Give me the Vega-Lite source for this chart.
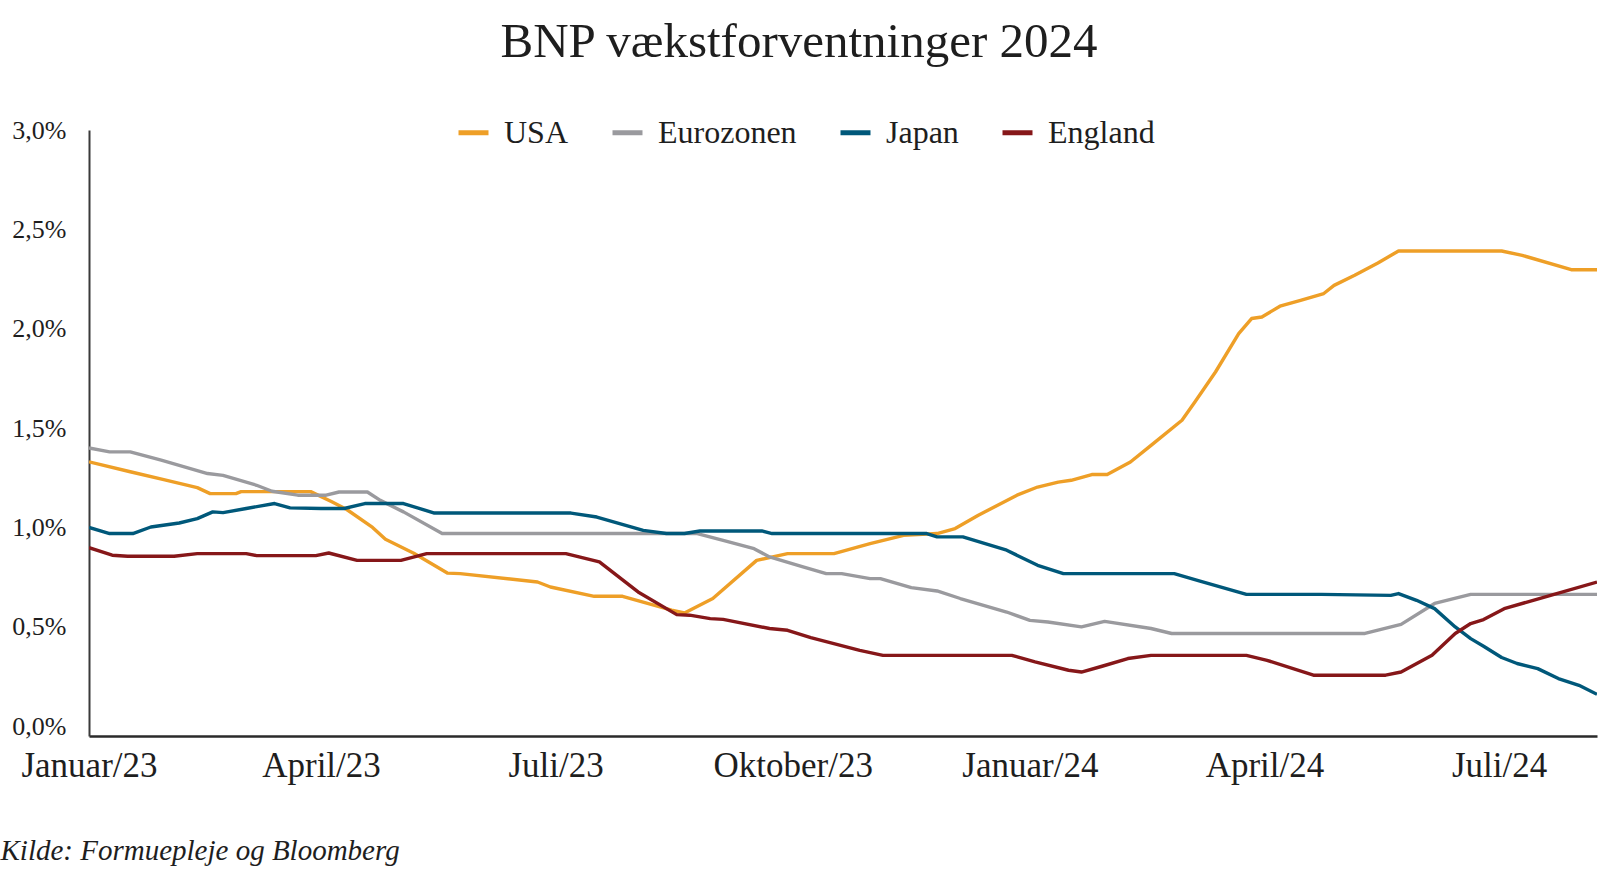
{
  "$schema": "https://vega.github.io/schema/vega-lite/v6.json",
  "autosize": {"type": "none"},
  "width": 1508,
  "height": 606,
  "padding": {"left": 89, "top": 130, "right": 3, "bottom": 138},
  "background": "white",
  "title": {
    "text": "BNP vækstforventninger 2024",
    "font": "Liberation Serif",
    "fontSize": 49,
    "fontWeight": "normal",
    "color": "#1e1e1e",
    "anchor": "middle",
    "dx": -44,
    "offset": 48
  },
  "config": {
    "view": {"stroke": null},
    "font": "Liberation Serif"
  },
  "data": {
    "values": [
      {"date": "2023-01-01", "land": "USA", "v": 1.33},
      {"date": "2023-01-17", "land": "USA", "v": 1.28},
      {"date": "2023-01-30", "land": "USA", "v": 1.24},
      {"date": "2023-02-12", "land": "USA", "v": 1.20},
      {"date": "2023-02-17", "land": "USA", "v": 1.17},
      {"date": "2023-02-27", "land": "USA", "v": 1.17},
      {"date": "2023-03-01", "land": "USA", "v": 1.18},
      {"date": "2023-03-28", "land": "USA", "v": 1.18},
      {"date": "2023-04-05", "land": "USA", "v": 1.13},
      {"date": "2023-04-11", "land": "USA", "v": 1.09},
      {"date": "2023-04-21", "land": "USA", "v": 1.00},
      {"date": "2023-04-26", "land": "USA", "v": 0.94},
      {"date": "2023-05-07", "land": "USA", "v": 0.87},
      {"date": "2023-05-20", "land": "USA", "v": 0.77},
      {"date": "2023-05-25", "land": "USA", "v": 0.767},
      {"date": "2023-06-24", "land": "USA", "v": 0.725},
      {"date": "2023-06-29", "land": "USA", "v": 0.70},
      {"date": "2023-07-16", "land": "USA", "v": 0.653},
      {"date": "2023-07-27", "land": "USA", "v": 0.653},
      {"date": "2023-08-15", "land": "USA", "v": 0.583},
      {"date": "2023-08-20", "land": "USA", "v": 0.569},
      {"date": "2023-08-31", "land": "USA", "v": 0.642},
      {"date": "2023-09-17", "land": "USA", "v": 0.834},
      {"date": "2023-09-29", "land": "USA", "v": 0.868},
      {"date": "2023-10-17", "land": "USA", "v": 0.868},
      {"date": "2023-10-31", "land": "USA", "v": 0.918},
      {"date": "2023-11-13", "land": "USA", "v": 0.960},
      {"date": "2023-11-26", "land": "USA", "v": 0.969},
      {"date": "2023-12-03", "land": "USA", "v": 0.994},
      {"date": "2023-12-12", "land": "USA", "v": 1.061},
      {"date": "2023-12-27", "land": "USA", "v": 1.162},
      {"date": "2024-01-04", "land": "USA", "v": 1.203},
      {"date": "2024-01-12", "land": "USA", "v": 1.228},
      {"date": "2024-01-17", "land": "USA", "v": 1.237},
      {"date": "2024-01-25", "land": "USA", "v": 1.266},
      {"date": "2024-01-31", "land": "USA", "v": 1.266},
      {"date": "2024-02-09", "land": "USA", "v": 1.329},
      {"date": "2024-02-17", "land": "USA", "v": 1.413},
      {"date": "2024-02-29", "land": "USA", "v": 1.539},
      {"date": "2024-03-05", "land": "USA", "v": 1.631},
      {"date": "2024-03-13", "land": "USA", "v": 1.782},
      {"date": "2024-03-22", "land": "USA", "v": 1.975},
      {"date": "2024-03-27", "land": "USA", "v": 2.051},
      {"date": "2024-03-31", "land": "USA", "v": 2.059},
      {"date": "2024-04-07", "land": "USA", "v": 2.113},
      {"date": "2024-04-15", "land": "USA", "v": 2.143},
      {"date": "2024-04-24", "land": "USA", "v": 2.177},
      {"date": "2024-04-28", "land": "USA", "v": 2.218},
      {"date": "2024-05-06", "land": "USA", "v": 2.269},
      {"date": "2024-05-15", "land": "USA", "v": 2.331},
      {"date": "2024-05-23", "land": "USA", "v": 2.391},
      {"date": "2024-07-02", "land": "USA", "v": 2.391},
      {"date": "2024-07-10", "land": "USA", "v": 2.369},
      {"date": "2024-07-29", "land": "USA", "v": 2.297},
      {"date": "2024-08-08", "land": "USA", "v": 2.297},

      {"date": "2023-01-01", "land": "Eurozonen", "v": 1.40},
      {"date": "2023-01-09", "land": "Eurozonen", "v": 1.38},
      {"date": "2023-01-17", "land": "Eurozonen", "v": 1.38},
      {"date": "2023-01-29", "land": "Eurozonen", "v": 1.338},
      {"date": "2023-02-16", "land": "Eurozonen", "v": 1.271},
      {"date": "2023-02-22", "land": "Eurozonen", "v": 1.262},
      {"date": "2023-03-07", "land": "Eurozonen", "v": 1.212},
      {"date": "2023-03-13", "land": "Eurozonen", "v": 1.182},
      {"date": "2023-03-23", "land": "Eurozonen", "v": 1.162},
      {"date": "2023-04-03", "land": "Eurozonen", "v": 1.162},
      {"date": "2023-04-08", "land": "Eurozonen", "v": 1.178},
      {"date": "2023-04-19", "land": "Eurozonen", "v": 1.178},
      {"date": "2023-04-24", "land": "Eurozonen", "v": 1.136},
      {"date": "2023-05-03", "land": "Eurozonen", "v": 1.078},
      {"date": "2023-05-18", "land": "Eurozonen", "v": 0.969},
      {"date": "2023-08-25", "land": "Eurozonen", "v": 0.969},
      {"date": "2023-09-04", "land": "Eurozonen", "v": 0.935},
      {"date": "2023-09-16", "land": "Eurozonen", "v": 0.893},
      {"date": "2023-09-22", "land": "Eurozonen", "v": 0.851},
      {"date": "2023-10-05", "land": "Eurozonen", "v": 0.801},
      {"date": "2023-10-14", "land": "Eurozonen", "v": 0.767},
      {"date": "2023-10-20", "land": "Eurozonen", "v": 0.767},
      {"date": "2023-10-31", "land": "Eurozonen", "v": 0.742},
      {"date": "2023-11-04", "land": "Eurozonen", "v": 0.742},
      {"date": "2023-11-16", "land": "Eurozonen", "v": 0.697},
      {"date": "2023-11-26", "land": "Eurozonen", "v": 0.680},
      {"date": "2023-12-05", "land": "Eurozonen", "v": 0.642},
      {"date": "2023-12-23", "land": "Eurozonen", "v": 0.574},
      {"date": "2024-01-01", "land": "Eurozonen", "v": 0.532},
      {"date": "2024-01-08", "land": "Eurozonen", "v": 0.524},
      {"date": "2024-01-21", "land": "Eurozonen", "v": 0.499},
      {"date": "2024-01-30", "land": "Eurozonen", "v": 0.527},
      {"date": "2024-02-17", "land": "Eurozonen", "v": 0.491},
      {"date": "2024-02-25", "land": "Eurozonen", "v": 0.466},
      {"date": "2024-05-10", "land": "Eurozonen", "v": 0.466},
      {"date": "2024-05-24", "land": "Eurozonen", "v": 0.512},
      {"date": "2024-06-06", "land": "Eurozonen", "v": 0.617},
      {"date": "2024-06-20", "land": "Eurozonen", "v": 0.663},
      {"date": "2024-08-08", "land": "Eurozonen", "v": 0.663},

      {"date": "2023-01-01", "land": "Japan", "v": 1.00},
      {"date": "2023-01-09", "land": "Japan", "v": 0.969},
      {"date": "2023-01-18", "land": "Japan", "v": 0.969},
      {"date": "2023-01-25", "land": "Japan", "v": 1.002},
      {"date": "2023-02-05", "land": "Japan", "v": 1.022},
      {"date": "2023-02-12", "land": "Japan", "v": 1.044},
      {"date": "2023-02-18", "land": "Japan", "v": 1.078},
      {"date": "2023-02-22", "land": "Japan", "v": 1.074},
      {"date": "2023-03-03", "land": "Japan", "v": 1.095},
      {"date": "2023-03-14", "land": "Japan", "v": 1.120},
      {"date": "2023-03-20", "land": "Japan", "v": 1.098},
      {"date": "2023-04-01", "land": "Japan", "v": 1.095},
      {"date": "2023-04-10", "land": "Japan", "v": 1.095},
      {"date": "2023-04-18", "land": "Japan", "v": 1.120},
      {"date": "2023-05-03", "land": "Japan", "v": 1.120},
      {"date": "2023-05-15", "land": "Japan", "v": 1.072},
      {"date": "2023-07-07", "land": "Japan", "v": 1.072},
      {"date": "2023-07-17", "land": "Japan", "v": 1.052},
      {"date": "2023-08-04", "land": "Japan", "v": 0.985},
      {"date": "2023-08-13", "land": "Japan", "v": 0.969},
      {"date": "2023-08-20", "land": "Japan", "v": 0.969},
      {"date": "2023-08-26", "land": "Japan", "v": 0.982},
      {"date": "2023-09-19", "land": "Japan", "v": 0.982},
      {"date": "2023-09-23", "land": "Japan", "v": 0.969},
      {"date": "2023-11-22", "land": "Japan", "v": 0.969},
      {"date": "2023-11-26", "land": "Japan", "v": 0.952},
      {"date": "2023-12-06", "land": "Japan", "v": 0.952},
      {"date": "2023-12-23", "land": "Japan", "v": 0.885},
      {"date": "2024-01-04", "land": "Japan", "v": 0.809},
      {"date": "2024-01-14", "land": "Japan", "v": 0.767},
      {"date": "2024-02-26", "land": "Japan", "v": 0.767},
      {"date": "2024-03-07", "land": "Japan", "v": 0.730},
      {"date": "2024-03-25", "land": "Japan", "v": 0.663},
      {"date": "2024-04-23", "land": "Japan", "v": 0.663},
      {"date": "2024-05-20", "land": "Japan", "v": 0.658},
      {"date": "2024-05-23", "land": "Japan", "v": 0.667},
      {"date": "2024-05-30", "land": "Japan", "v": 0.633},
      {"date": "2024-06-06", "land": "Japan", "v": 0.591},
      {"date": "2024-06-14", "land": "Japan", "v": 0.499},
      {"date": "2024-06-20", "land": "Japan", "v": 0.440},
      {"date": "2024-06-25", "land": "Japan", "v": 0.402},
      {"date": "2024-07-02", "land": "Japan", "v": 0.345},
      {"date": "2024-07-08", "land": "Japan", "v": 0.315},
      {"date": "2024-07-16", "land": "Japan", "v": 0.289},
      {"date": "2024-07-24", "land": "Japan", "v": 0.239},
      {"date": "2024-08-01", "land": "Japan", "v": 0.205},
      {"date": "2024-08-08", "land": "Japan", "v": 0.160},

      {"date": "2023-01-01", "land": "England", "v": 0.898},
      {"date": "2023-01-10", "land": "England", "v": 0.860},
      {"date": "2023-01-16", "land": "England", "v": 0.855},
      {"date": "2023-02-03", "land": "England", "v": 0.855},
      {"date": "2023-02-12", "land": "England", "v": 0.868},
      {"date": "2023-03-03", "land": "England", "v": 0.868},
      {"date": "2023-03-07", "land": "England", "v": 0.858},
      {"date": "2023-03-30", "land": "England", "v": 0.858},
      {"date": "2023-04-04", "land": "England", "v": 0.871},
      {"date": "2023-04-15", "land": "England", "v": 0.834},
      {"date": "2023-05-02", "land": "England", "v": 0.834},
      {"date": "2023-05-12", "land": "England", "v": 0.868},
      {"date": "2023-07-05", "land": "England", "v": 0.868},
      {"date": "2023-07-18", "land": "England", "v": 0.826},
      {"date": "2023-08-02", "land": "England", "v": 0.675},
      {"date": "2023-08-17", "land": "England", "v": 0.561},
      {"date": "2023-08-22", "land": "England", "v": 0.558},
      {"date": "2023-08-30", "land": "England", "v": 0.541},
      {"date": "2023-09-04", "land": "England", "v": 0.537},
      {"date": "2023-09-22", "land": "England", "v": 0.491},
      {"date": "2023-09-29", "land": "England", "v": 0.482},
      {"date": "2023-10-08", "land": "England", "v": 0.445},
      {"date": "2023-10-27", "land": "England", "v": 0.381},
      {"date": "2023-11-05", "land": "England", "v": 0.356},
      {"date": "2023-12-25", "land": "England", "v": 0.356},
      {"date": "2024-01-03", "land": "England", "v": 0.323},
      {"date": "2024-01-16", "land": "England", "v": 0.281},
      {"date": "2024-01-21", "land": "England", "v": 0.272},
      {"date": "2024-01-29", "land": "England", "v": 0.301},
      {"date": "2024-02-08", "land": "England", "v": 0.340},
      {"date": "2024-02-17", "land": "England", "v": 0.356},
      {"date": "2024-03-25", "land": "England", "v": 0.356},
      {"date": "2024-04-02", "land": "England", "v": 0.331},
      {"date": "2024-04-20", "land": "England", "v": 0.256},
      {"date": "2024-05-18", "land": "England", "v": 0.256},
      {"date": "2024-05-24", "land": "England", "v": 0.272},
      {"date": "2024-06-05", "land": "England", "v": 0.356},
      {"date": "2024-06-14", "land": "England", "v": 0.466},
      {"date": "2024-06-20", "land": "England", "v": 0.516},
      {"date": "2024-06-25", "land": "England", "v": 0.536},
      {"date": "2024-07-03", "land": "England", "v": 0.591},
      {"date": "2024-07-21", "land": "England", "v": 0.658},
      {"date": "2024-08-08", "land": "England", "v": 0.725}
    ]
  },
  "mark": {"type": "line", "strokeWidth": 3.4, "strokeJoin": "round", "clip": true},
  "encoding": {
    "x": {
      "field": "date",
      "type": "temporal",
      "scale": {
        "type": "utc",
        "domain": [
          {"year": 2023, "month": 1, "date": 1, "utc": true},
          {"year": 2024, "month": 8, "date": 8, "utc": true}
        ]
      },
      "axis": {
        "values": [
          {"year": 2023, "month": 1, "date": 1, "utc": true},
          {"year": 2023, "month": 4, "date": 1, "utc": true},
          {"year": 2023, "month": 7, "date": 1, "utc": true},
          {"year": 2023, "month": 10, "date": 1, "utc": true},
          {"year": 2024, "month": 1, "date": 1, "utc": true},
          {"year": 2024, "month": 4, "date": 1, "utc": true},
          {"year": 2024, "month": 7, "date": 1, "utc": true}
        ],
        "labelExpr": "(utcmonth(datum.value)==0?'Januar':utcmonth(datum.value)==3?'April':utcmonth(datum.value)==6?'Juli':'Oktober') + '/' + utcFormat(datum.value, '%y')",
        "labelFont": "Liberation Serif",
        "labelFontSize": 35,
        "labelColor": "#1e1e1e",
        "labelPadding": 12,
        "labelFlush": false,
        "labelOverlap": false,
        "ticks": false,
        "tickSize": 0,
        "grid": false,
        "domainColor": "#2a2a2a",
        "domainWidth": 2.6,
        "title": "Kilde: Formuepleje og Bloomberg",
        "titleFont": "Liberation Serif",
        "titleFontStyle": "italic",
        "titleFontWeight": "normal",
        "titleFontSize": 29,
        "titleColor": "#1e1e1e",
        "titleAnchor": "start",
        "titleAlign": "left",
        "titleBaseline": "middle",
        "titleX": -89,
        "titleY": 114
      }
    },
    "y": {
      "field": "v",
      "type": "quantitative",
      "scale": {"domain": [-0.05, 3.0], "nice": false, "zero": false},
      "axis": {
        "values": [0, 0.5, 1, 1.5, 2, 2.5, 3],
        "labelExpr": "replace(format(datum.value, '.1f'), '.', ',') + '%'",
        "labelFont": "Liberation Serif",
        "labelFontSize": 26,
        "labelColor": "#1e1e1e",
        "labelPadding": 23,
        "labelBaseline": "middle",
        "ticks": false,
        "tickSize": 0,
        "grid": false,
        "domainColor": "#3a3a3a",
        "domainWidth": 2,
        "title": null
      }
    },
    "color": {
      "field": "land",
      "type": "nominal",
      "scale": {
        "domain": ["USA", "Eurozonen", "Japan", "England"],
        "range": ["#EE9F27", "#9A9A9E", "#00587A", "#861719"]
      },
      "legend": {
        "title": null,
        "orient": "none",
        "direction": "horizontal",
        "legendX": 367,
        "legendY": -15,
        "symbolType": "stroke",
        "symbolSize": 900,
        "symbolStrokeWidth": 5,
        "labelFont": "Liberation Serif",
        "labelFontSize": 32,
        "labelColor": "#1e1e1e",
        "labelOffset": 13,
        "columnPadding": 33,
        "padding": 0
      }
    }
  }
}
